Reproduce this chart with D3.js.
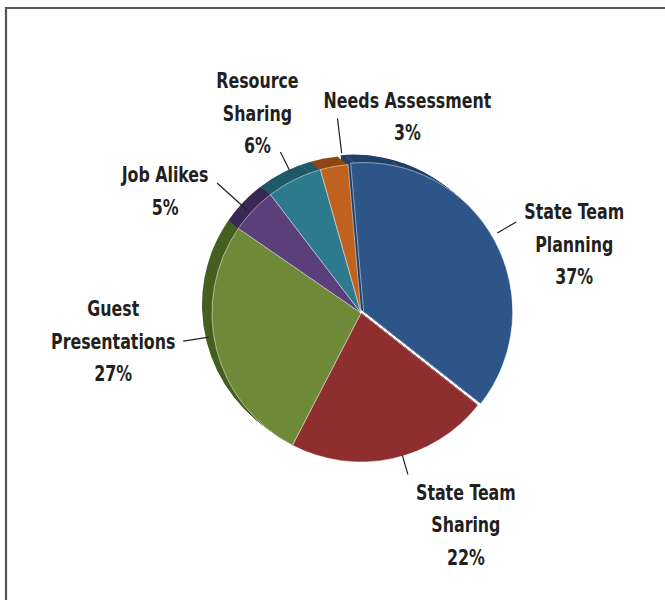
<!DOCTYPE html>
<html>
<head>
<meta charset="utf-8">
<script src="https://cdn.jsdelivr.net/npm/d3@7"></script>
<style>
  html, body { margin: 0; padding: 0; background: #fff; }
  svg { display: block; }
  .pie-label { font-family: "DejaVu Sans Condensed", "Liberation Sans Narrow", sans-serif; font-weight: bold; font-size: 22px; fill: #231f20; }
</style>
</head>
<body>
<div id="chart"></div>
<script>
// data
const categories = ['State Team Planning', 'State Team Sharing', 'Guest Presentations', 'Job Alikes', 'Resource Sharing', 'Needs Assessment'];
const percents = [37, 22, 27, 5, 6, 3];
const labelLines = [['State Team', 'Planning'], ['State Team', 'Sharing'], ['Guest', 'Presentations'], ['Job Alikes'], ['Resource', 'Sharing'], ['Needs Assessment']];

// styling / layout
const topColors = ['#2e5587', '#8f2e2f', '#6e8a38', '#5a3f78', '#2d7a8f', '#c0621f'];
const sideColors = ['#21406a', '#6b2122', '#45601f', '#3c2856', '#1e5a6a', '#8f4714'];
const WIDTH = 665, HEIGHT = 600;
const CX = 361, CY = 313, RADIUS = 149;
const DEPTH = { x: -10, y: -8 };
// leader lines: radii, small angle nudge (deg) and label block offsets from the leader end
const leaderIn = [158, 148, 154, 154, 160, 161];
const leaderOut = [180, 168, 180, 194, 180, 196];
const leaderNudge = [-2, -4, 5, -1.5, 0, 3.5];
const labelOffsets = [
  { dx: 58, dy: 22 }, { dx: 58, dy: 50 }, { dx: -70, dy: 0 },
  { dx: -52, dy: 8 }, { dx: -23, dy: -39 }, { dx: 70, dy: -2 }
];
const LINE_HEIGHT = 32.5;
const TEXT_SQUEEZE = 0.8;

const svg = d3.select('#chart').append('svg')
    .attr('width', WIDTH)
    .attr('height', HEIGHT);

// frame
svg.append('path')
    .attr('d', `M6,${HEIGHT} V8 H${WIDTH}`)
    .attr('fill', 'none')
    .attr('stroke', '#555')
    .attr('stroke-width', 2.2);

const pie = d3.pie().sort(null)
    .startAngle(-5 * Math.PI / 180)
    .endAngle(355 * Math.PI / 180);
const slices = pie(percents);

const arc = d3.arc().innerRadius(0).outerRadius(RADIUS);
const explode = i => i === 0 ? 3 : 0;
const midAngle = d => (d.startAngle + d.endAngle) / 2;
const shift = d => {
  const e = explode(d.index);
  return [Math.sin(midAngle(d)) * e, -Math.cos(midAngle(d)) * e];
};

const chart = svg.append('g').attr('transform', `translate(${CX}, ${CY})`);

// extruded side, drawn in a few steps so it looks solid
const steps = d3.range(1, 0, -0.1);
steps.forEach(t => {
  chart.append('g').selectAll('path').data(slices).enter().append('path')
      .attr('transform', d => {
        const [sx, sy] = shift(d);
        return `translate(${sx + DEPTH.x * t}, ${sy + DEPTH.y * t})`;
      })
      .attr('d', arc)
      .attr('fill', (d, i) => sideColors[i]);
});

// faint segment lines on the side band
const sideTicks = d3.range(-20, 210, 18).map(a => a * Math.PI / 180);
chart.append('g').selectAll('line').data(sideTicks).enter().append('line')
    .attr('x1', a => Math.sin(a) * RADIUS)
    .attr('y1', a => -Math.cos(a) * RADIUS)
    .attr('x2', a => Math.sin(a) * RADIUS + DEPTH.x)
    .attr('y2', a => -Math.cos(a) * RADIUS + DEPTH.y)
    .attr('stroke', 'rgba(255,255,255,0.25)')
    .attr('stroke-width', 0.8)
    .attr('stroke-dasharray', '2,1');

// top faces
chart.append('g').selectAll('path').data(slices).enter().append('path')
    .attr('transform', d => `translate(${shift(d)})`)
    .attr('d', arc)
    .attr('fill', (d, i) => topColors[i])
    .attr('stroke', 'rgba(255,255,255,0.7)')
    .attr('stroke-width', 0.7)
    .attr('stroke-linejoin', 'round');

// leader lines and labels
slices.forEach((d, i) => {
  const a = midAngle(d) + leaderNudge[i] * Math.PI / 180;
  const x1 = Math.sin(a) * leaderIn[i], y1 = -Math.cos(a) * leaderIn[i];
  const x2 = Math.sin(a) * leaderOut[i], y2 = -Math.cos(a) * leaderOut[i];
  chart.append('line')
      .attr('x1', x1).attr('y1', y1)
      .attr('x2', x2).attr('y2', y2)
      .attr('stroke', '#231f20')
      .attr('stroke-width', 1.2);

  const lines = labelLines[i].concat([percents[i] + '%']);
  const lx = x2 + labelOffsets[i].dx;
  const ly = y2 + labelOffsets[i].dy - (lines.length - 1) * LINE_HEIGHT / 2;
  const text = chart.append('text')
      .attr('class', 'pie-label')
      .attr('text-anchor', 'middle')
      .attr('transform', `translate(${lx}, ${ly}) scale(${TEXT_SQUEEZE}, 1)`);
  lines.forEach((line, k) => {
    text.append('tspan')
        .attr('x', 0)
        .attr('y', k * LINE_HEIGHT)
        .attr('dy', '0.35em')
        .text(line);
  });
});
</script>
</body>
</html>
